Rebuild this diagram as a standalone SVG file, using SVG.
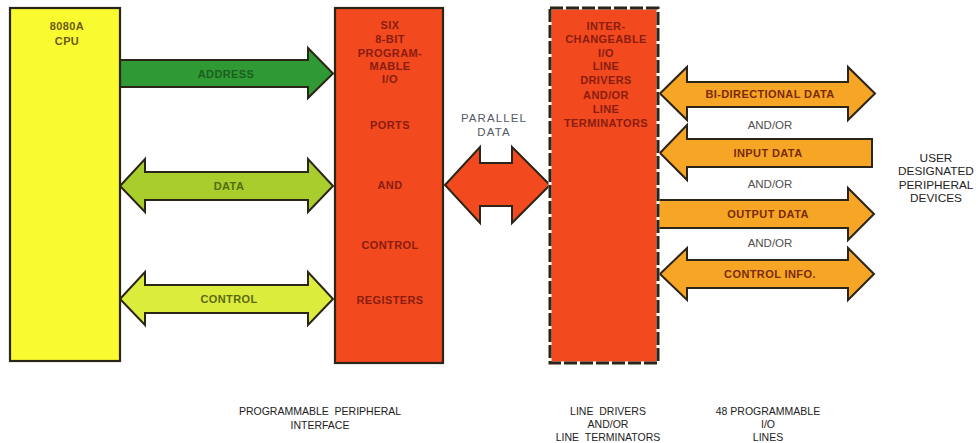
<svg xmlns="http://www.w3.org/2000/svg" width="978" height="443" viewBox="0 0 978 443">
<style>
.box{stroke:#2b2418;stroke-width:2.2}
.arr{stroke:#2b2418;stroke-width:2;stroke-linejoin:miter}
.bt{font-family:"Liberation Sans",Arial,sans-serif;font-weight:bold;font-size:11px;letter-spacing:0.4px;text-anchor:middle}
.rt{fill:#8a1c10}
.ot{fill:#7a2a08}
.lt{font-family:"Liberation Sans",Arial,sans-serif;font-size:10.5px;text-anchor:middle;fill:#222}
.ao{font-family:"Liberation Sans",Arial,sans-serif;font-size:11.5px;text-anchor:middle;fill:#505050}
.ut{font-family:"Liberation Sans",Arial,sans-serif;font-size:11.8px;text-anchor:middle;fill:#222}
.gt{font-family:"Liberation Sans",Arial,sans-serif;font-size:11.5px;text-anchor:middle;fill:#555a66;letter-spacing:1.1px}
</style>
<rect width="978" height="443" fill="#fff"/>
<g id="connectors">
  <g id="address">
    <path class="arr" fill="#2f9a34" d="M120,60 H308 V48 L333,73.5 L308,98 V87 H120 Z"/>
    <text class="bt" x="226" y="77.5" fill="#1d5e1e">ADDRESS</text>
  </g>
  <g id="data">
    <path class="arr" fill="#a9cd2c" d="M120,186 L145,159 V172 H308 V159 L333,186 L308,212 V200 H145 V212 Z"/>
    <text class="bt" x="229" y="190" fill="#4f6e10">DATA</text>
  </g>
  <g id="control">
    <path class="arr" fill="#dcec3c" d="M120,299 L145,272 V285 H308 V272 L333,299 L308,325 V313 H145 V325 Z"/>
    <text class="bt" x="229" y="303" fill="#5a6a10">CONTROL</text>
  </g>
  <g id="parallel">
    <path class="arr" fill="#f24a1e" d="M445,185 L480,147 V163 H512 V147 L550,185 L512,223 V206 H480 V223 Z"/>
  </g>
  <g id="bidir">
    <path class="arr" fill="#f6a624" d="M660,93.5 L687,67 V82 H848 V67 L875,93.5 L848,120 V107 H687 V120 Z"/>
    <text class="bt ot" x="770" y="97.5">BI-DIRECTIONAL DATA</text>
  </g>
  <g id="input">
    <path class="arr" fill="#f6a624" d="M660,153 L687,125 V139 H872 V167 H687 V180 Z"/>
    <text class="bt ot" x="768" y="157">INPUT DATA</text>
  </g>
  <g id="output">
    <path class="arr" fill="#f6a624" d="M658,200 H848 V188 L874,214 L848,240 V228 H658 Z"/>
    <text class="bt ot" x="768" y="218">OUTPUT DATA</text>
  </g>
  <g id="controlinfo">
    <path class="arr" fill="#f6a624" d="M660,274 L687,248 V260 H848 V248 L874,274 L848,300 V288 H687 V300 Z"/>
    <text class="bt ot" x="770" y="278">CONTROL INFO.</text>
  </g>
</g>
<g id="cpu">
  <rect class="box" x="10" y="8" width="110" height="353" fill="#fafa30"/>
  <text class="bt" x="67" y="30" fill="#6a5a10">8080A</text>
  <text class="bt" x="67" y="45" fill="#6a5a10">CPU</text>
</g>
<g id="ppi">
  <rect class="box" x="335" y="8" width="108" height="355" fill="#f24a1e"/>
  <g class="bt rt">
    <text x="390" y="29">SIX</text>
    <text x="390" y="43">8-BIT</text>
    <text x="390" y="57">PROGRAM-</text>
    <text x="390" y="70">MABLE</text>
    <text x="390" y="83">I/O</text>
    <text x="390" y="129">PORTS</text>
    <text x="390" y="189">AND</text>
    <text x="390" y="249">CONTROL</text>
    <text x="390" y="304">REGISTERS</text>
  </g>
</g>
<g id="linedrivers">
  <rect x="550" y="8" width="108" height="355" fill="#f24a1e" stroke="#fff" stroke-width="3"/>
  <rect x="550" y="8" width="108" height="355" fill="none" stroke="#2b2418" stroke-width="3" stroke-dasharray="13 3"/>
  <g class="bt rt">
    <text x="606" y="30">INTER-</text>
    <text x="606" y="43">CHANGEABLE</text>
    <text x="606" y="57">I/O</text>
    <text x="606" y="70">LINE</text>
    <text x="606" y="84">DRIVERS</text>
    <text x="606" y="99">AND/OR</text>
    <text x="606" y="113">LINE</text>
    <text x="606" y="127">TERMINATORS</text>
  </g>
</g>
<g id="parallel-label">
  <text class="gt" x="494" y="122">PARALLEL</text>
  <text class="gt" x="494" y="136">DATA</text>
</g>
<g id="andor">
  <text class="ao" x="770" y="129">AND/OR</text>
  <text class="ao" x="770" y="188">AND/OR</text>
  <text class="ao" x="770" y="247">AND/OR</text>
</g>
<g id="user">
  <text class="ut" x="936" y="161.5">USER</text>
  <text class="ut" x="936" y="175">DESIGNATED</text>
  <text class="ut" x="936" y="188.5">PERIPHERAL</text>
  <text class="ut" x="936" y="202">DEVICES</text>
</g>
<g id="captions">
  <text class="lt" x="320" y="415" xml:space="preserve">PROGRAMMABLE  PERIPHERAL</text>
  <text class="lt" x="320" y="429">INTERFACE</text>
  <text class="lt" x="608" y="415" xml:space="preserve">LINE  DRIVERS</text>
  <text class="lt" x="608" y="428">AND/OR</text>
  <text class="lt" x="608" y="441" xml:space="preserve">LINE  TERMINATORS</text>
  <text class="lt" x="768" y="415">48 PROGRAMMABLE</text>
  <text class="lt" x="768" y="428">I/O</text>
  <text class="lt" x="768" y="441">LINES</text>
</g>
</svg>
